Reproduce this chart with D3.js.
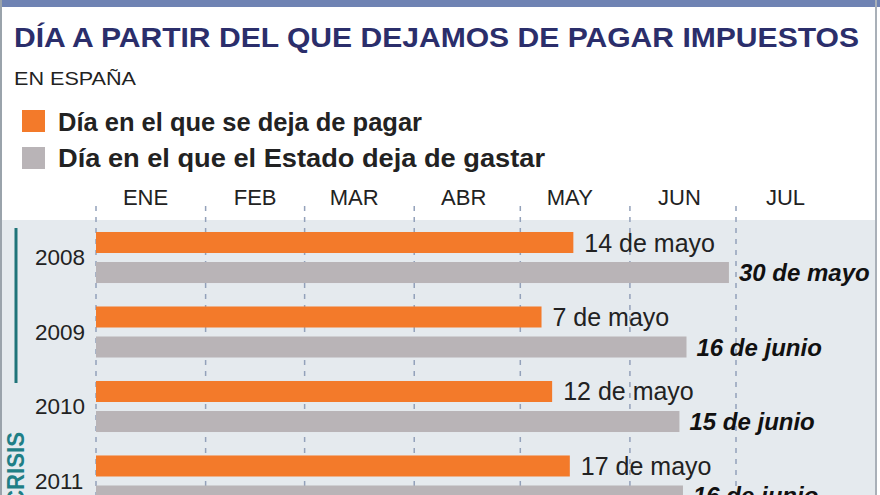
<!DOCTYPE html>
<html>
<head>
<meta charset="utf-8">
<script src="https://cdn.jsdelivr.net/npm/d3@7"></script>
<style>
  body { margin: 0; background: #fff; }
  svg { display: block; font-family: "Liberation Sans", Arial, sans-serif; }
</style>
</head>
<body>
<svg id="chart" width="880" height="495"></svg>
<script>
// datos
const years = ["2008", "2009", "2010", "2011"];
const series = ["pagar", "gastar"];
const seriesNames = ["Día en el que se deja de pagar", "Día en el que el Estado deja de gastar"];
// fin de barra (mes-día)
const pagarDates = ["05-16", "05-07", "05-10", "05-15"];
const gastarDates = ["06-29", "06-17", "06-15", "06-16"];
const pagarLabels = ["14 de mayo", "7 de mayo", "12 de mayo", "17 de mayo"];
const gastarLabels = ["30 de mayo", "16 de junio", "15 de junio", "16 de junio"];
const monthLabels = ["ENE", "FEB", "MAR", "ABR", "MAY", "JUN", "JUL"];

const parse = d3.timeParse("%m-%d");
const svg = d3.select("#chart");

const colores = { pagar: "#f37a2a", gastar: "#b9b4b7" };
const anchoLeyenda = [364, 487];

// escalas
const x = d3.scaleTime()
    .domain([parse("01-01"), parse("07-01")])
    .range([96, 736]);

const y = d3.scaleBand()
    .domain(years)
    .range([220, 518.5])
    .paddingInner(0.315)
    .paddingOuter(0.161);

const ySub = d3.scaleBand()
    .domain(series)
    .range([0, y.bandwidth()])
    .paddingInner(0.3);

// marco
svg.append("rect").attr("x", 0).attr("y", 0).attr("width", 880).attr("height", 7).attr("fill", "#6f83b3");
svg.append("rect").attr("x", 0).attr("y", 220).attr("width", 876).attr("height", 275).attr("fill", "#e5eaee");
svg.append("line").attr("x1", 1).attr("x2", 1).attr("y1", 0).attr("y2", 495).attr("stroke", "#9aa3ab").attr("stroke-width", 2);
svg.append("line").attr("x1", 876).attr("x2", 876).attr("y1", 0).attr("y2", 495).attr("stroke", "#a9b0b8").attr("stroke-width", 2);

// titulo
svg.append("text")
    .attr("x", 14).attr("y", 47)
    .attr("textLength", 845).attr("lengthAdjust", "spacingAndGlyphs")
    .style("font-size", "28px").style("font-weight", "bold").attr("fill", "#2b2e6b")
    .text("DÍA A PARTIR DEL QUE DEJAMOS DE PAGAR IMPUESTOS");

svg.append("text")
    .attr("x", 14).attr("y", 85)
    .attr("textLength", 122).attr("lengthAdjust", "spacingAndGlyphs")
    .style("font-size", "18px").attr("fill", "#222")
    .text("EN ESPAÑA");

// leyenda
series.forEach((s, i) => {
    svg.append("rect")
        .attr("x", 22).attr("y", 110 + i * 37)
        .attr("width", 23).attr("height", 22)
        .attr("fill", colores[s]);
    svg.append("text")
        .attr("x", 58).attr("y", 131 + i * 36)
        .attr("textLength", anchoLeyenda[i]).attr("lengthAdjust", "spacingAndGlyphs")
        .style("font-size", "25px").style("font-weight", "bold").attr("fill", "#222")
        .text(seriesNames[i]);
});

// lineas de meses
const ticks = x.ticks(d3.timeMonth.every(1));
svg.append("g").selectAll("line")
    .data(ticks)
    .enter().append("line")
    .attr("x1", d => x(d)).attr("x2", d => x(d))
    .attr("y1", 206).attr("y2", 495)
    .attr("stroke", "#93a1ba").attr("stroke-width", 1.5)
    .attr("stroke-dasharray", "5,6");

// etiquetas de meses
svg.append("g").selectAll("text")
    .data(ticks)
    .enter().append("text")
    .attr("x", d => x(d3.timeDay.offset(d, 14)))
    .attr("y", 205)
    .attr("text-anchor", "middle")
    .style("font-size", "22px").attr("fill", "#222")
    .text((d, i) => monthLabels[i]);

// barras
const rows = years.map((yr, i) => ({
    year: yr,
    pagar: parse(pagarDates[i]),
    gastar: parse(gastarDates[i]),
    pagarLabel: pagarLabels[i],
    gastarLabel: gastarLabels[i]
}));

const grupos = svg.append("g").selectAll("g")
    .data(rows)
    .enter().append("g")
    .attr("transform", d => `translate(0,${y(d.year)})`);

grupos.selectAll("rect")
    .data(d => series.map(s => ({ key: s, value: d[s] })))
    .enter().append("rect")
    .attr("x", x(parse("01-01")))
    .attr("y", d => ySub(d.key))
    .attr("width", d => x(d.value) - x(parse("01-01")))
    .attr("height", ySub.bandwidth())
    .attr("fill", d => colores[d.key]);

grupos.append("text")
    .attr("x", d => x(d.pagar) + 11)
    .attr("y", ySub("pagar") + ySub.bandwidth() / 2 + 9)
    .style("font-size", "25px").attr("fill", "#222")
    .text(d => d.pagarLabel);

grupos.append("text")
    .attr("x", d => x(d.gastar) + 10)
    .attr("y", ySub("gastar") + ySub.bandwidth() / 2 + 8.5)
    .style("font-size", "24px").style("font-weight", "bold").style("font-style", "italic")
    .attr("fill", "#111")
    .text(d => d.gastarLabel);

// años
grupos.append("text")
    .attr("x", 35)
    .attr("y", y.bandwidth() / 2 + 8)
    .style("font-size", "22.5px").attr("fill", "#222")
    .text(d => d.year);

// crisis
svg.append("line")
    .attr("x1", 16).attr("x2", 16).attr("y1", 228).attr("y2", 383)
    .attr("stroke", "#1f7479").attr("stroke-width", 3);

svg.append("text")
    .attr("transform", "translate(24,432) rotate(-90)")
    .attr("text-anchor", "end")
    .attr("textLength", 74).attr("lengthAdjust", "spacingAndGlyphs")
    .style("font-size", "24px").style("font-weight", "bold").attr("fill", "#1f7f86")
    .text("CRISIS");
</script>
</body>
</html>
